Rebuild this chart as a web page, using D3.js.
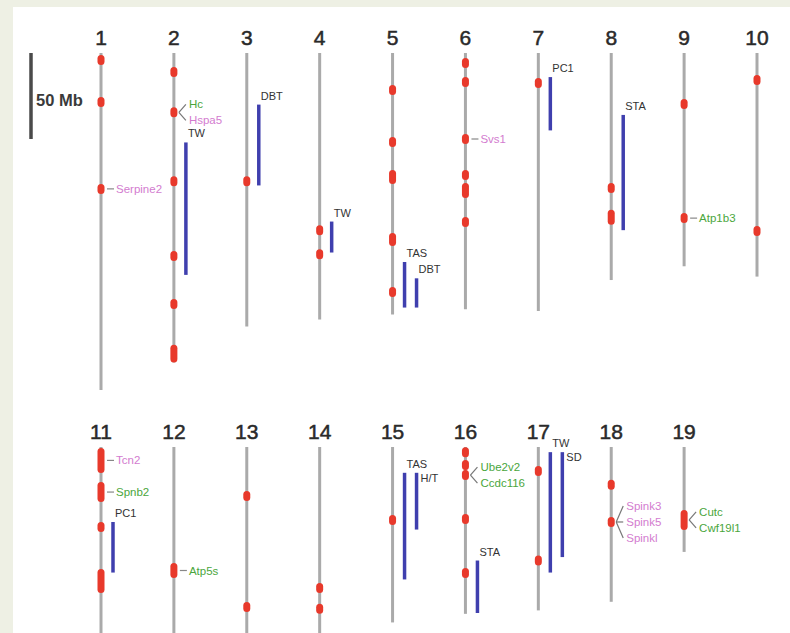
<!DOCTYPE html>
<html lang="en">
<head>
<meta charset="UTF-8">
<title>QTL map</title>
<script src="https://d3js.org/d3.v7.min.js"></script>
<style>
  body { margin: 0; background: #eef0e4; overflow: hidden; }
  text { font-family: "Liberation Sans", Arial, Helvetica, sans-serif; }
</style>
</head>
<body>
<script>
// chromosomes and lengths (Mb)
const chromNames = ["1","2","3","4","5","6","7","8","9","10","11","12","13","14","15","16","17","18","19"];
const chromLengths = [196, 180, 159, 155, 152, 149, 150, 132, 124, 130, 122, 120, 120, 125, 102, 97, 95, 90, 61];

// red markers: [chromosome, start Mb, end Mb]
const markers = [
  ["1", 4, 4], ["1", 28.5, 28.5], ["1", 79, 79],
  ["2", 11, 11], ["2", 34.5, 34.5], ["2", 74.5, 74.5], ["2", 118, 118], ["2", 146, 146], ["2", 172.5, 177],
  ["3", 74.5, 74.5],
  ["4", 103, 103], ["4", 117, 117],
  ["5", 21.5, 21.5], ["5", 51.7, 51.7], ["5", 71, 73.3], ["5", 107.5, 109.3], ["5", 139, 139],
  ["6", 5.8, 5.8], ["6", 16.9, 16.9], ["6", 50, 50], ["6", 71, 71], ["6", 78.5, 81.4], ["6", 98.3, 98.3],
  ["7", 17.4, 17.4],
  ["8", 78.5, 78.5], ["8", 94, 97],
  ["9", 29.6, 29.6], ["9", 96, 96],
  ["10", 15.7, 15.7], ["10", 103.5, 103.5],
  ["11", 3.5, 12.2], ["11", 23.3, 29], ["11", 46.5, 46.5], ["11", 73.8, 82],
  ["12", 70.3, 73.3],
  ["13", 28.5, 28.5], ["13", 93, 93],
  ["14", 82, 82], ["14", 94, 94],
  ["15", 42.5, 42.5],
  ["16", 3, 3], ["16", 10.5, 10.5], ["16", 16.3, 16.3], ["16", 41.9, 41.9], ["16", 73.3, 73.3],
  ["17", 14, 14], ["17", 66, 66],
  ["18", 22, 22], ["18", 43.6, 43.6],
  ["19", 39.5, 45.3]
];

// blue QTL intervals: [chromosome, start Mb, end Mb, trait, lane]
const qtls = [
  ["2", 52, 129, "TW", 1],
  ["3", 30, 77, "DBT", 1],
  ["4", 98, 116, "TW", 1],
  ["5", 121.5, 148, "TAS", 1],
  ["5", 131, 148, "DBT", 2],
  ["7", 14, 45, "PC1", 1],
  ["8", 36, 103, "STA", 1],
  ["11", 43.6, 73, "PC1", 1],
  ["15", 15, 77, "TAS", 1],
  ["15", 15, 48, "H/T", 2],
  ["16", 66, 96.5, "STA", 1],
  ["17", 3, 73, "TW", 1],
  ["17", 3, 64, "SD", 2]
];

// candidate genes: [chromosome, Mb, names, groups]
const genes = [
  ["1", 79, ["Serpine2"], ["m"]],
  ["2", 34.5, ["Hc", "Hspa5"], ["g", "m"]],
  ["6", 50, ["Svs1"], ["m"]],
  ["9", 96, ["Atp1b3"], ["g"]],
  ["11", 7.8, ["Tcn2"], ["m"]],
  ["11", 26.2, ["Spnb2"], ["g"]],
  ["12", 71.8, ["Atp5s"], ["g"]],
  ["16", 16.3, ["Ube2v2", "Ccdc116"], ["g", "g"]],
  ["18", 43.6, ["Spink3", "Spink5", "Spinkl"], ["m", "m", "m"]],
  ["19", 42.4, ["Cutc", "Cwf19l1"], ["g", "g"]]
];

const scaleBarMb = 50;

const width = 790, height = 633;
const geneColor = { m: "#d37ccf", g: "#4aa63c" };

const svg = d3.select("body").append("svg").attr("width", width).attr("height", height);
svg.append("rect").attr("width", width).attr("height", height).attr("fill", "#eef0e4");
svg.append("rect").attr("x", 13).attr("y", 7).attr("width", width).attr("height", height).attr("fill", "#fff");

// column positions and Mb -> pixels
const x = d3.scalePoint().domain(d3.range(10)).range([101, 757]);
const y = d3.scaleLinear().domain([0, 50]).range([0, 86]);
const rowTop = [53, 447];

const idx = c => chromNames.indexOf(c);
const cx = c => { const i = idx(c); return x(i < 10 ? i : i - 10); };
const cy = (c, mb) => rowTop[idx(c) < 10 ? 0 : 1] + y(mb);

// scale bar
svg.append("line")
  .attr("x1", 31).attr("x2", 31)
  .attr("y1", rowTop[0]).attr("y2", rowTop[0] + y(scaleBarMb))
  .attr("stroke", "#4a4a4a").attr("stroke-width", 3.5);
svg.append("text")
  .attr("x", 36).attr("y", 106)
  .attr("font-size", 16.5).attr("font-weight", "bold").attr("fill", "#3a3a3a")
  .text(scaleBarMb + " Mb");

// chromosomes
const chroms = svg.append("g");
chromNames.forEach((c, i) => {
  chroms.append("line")
    .attr("x1", cx(c)).attr("x2", cx(c))
    .attr("y1", cy(c, 0)).attr("y2", cy(c, chromLengths[i]))
    .attr("stroke", "#aaaaaa").attr("stroke-width", 3);
  chroms.append("text")
    .attr("x", cx(c)).attr("y", cy(c, 0) - 8)
    .attr("text-anchor", "middle")
    .attr("font-size", 21).attr("fill", "#2a2a2a")
    .attr("stroke", "#2a2a2a").attr("stroke-width", 0.5)
    .text(c);
});

// QTL bars
const bars = svg.append("g");
qtls.forEach(([c, s, e, label, lane]) => {
  const bx = cx(c) + 12 * lane;
  bars.append("line")
    .attr("x1", bx).attr("x2", bx)
    .attr("y1", cy(c, s)).attr("y2", cy(c, e))
    .attr("stroke", "#3f3fae").attr("stroke-width", 3.5);
  // second-lane bar starting with the first one gets its label at the side
  const beside = lane > 1 && qtls.some(q => q[0] === c && q[4] === 1 && Math.abs(q[1] - s) < 5);
  bars.append("text")
    .attr("x", beside ? bx + 4 : bx + 2)
    .attr("y", beside ? cy(c, s) + 9 : cy(c, s) - 5)
    .attr("font-size", 11).attr("fill", "#333")
    .text(label);
});

// markers
svg.append("g").selectAll("rect")
  .data(markers)
  .join("rect")
  .attr("x", d => cx(d[0]) - 3.5)
  .attr("y", d => cy(d[0], d[1]) - 5)
  .attr("width", 7)
  .attr("height", d => y(d[2]) - y(d[1]) + 10)
  .attr("rx", 3.5)
  .attr("fill", "#e8392b");

// gene labels
const gl = svg.append("g");
genes.forEach(([c, mb, names, groups]) => {
  const x0 = cx(c), y0 = cy(c, mb);
  const n = names.length;
  names.forEach((name, k) => {
    const ty = n === 1 ? y0 : y0 + (k - (n - 1) / 2) * 16;
    if (n === 1) {
      gl.append("line")
        .attr("x1", x0 + 6).attr("x2", x0 + 13)
        .attr("y1", y0).attr("y2", y0)
        .attr("stroke", "#888").attr("stroke-width", 1.2);
    } else {
      gl.append("line")
        .attr("x1", x0 + 5).attr("x2", x0 + 12)
        .attr("y1", y0).attr("y2", ty)
        .attr("stroke", "#777").attr("stroke-width", 1.2);
    }
    gl.append("text")
      .attr("x", x0 + 15).attr("y", ty)
      .attr("dy", "0.35em")
      .attr("font-size", 11.5)
      .attr("fill", geneColor[groups[k]])
      .text(name);
  });
});
</script>
</body>
</html>
